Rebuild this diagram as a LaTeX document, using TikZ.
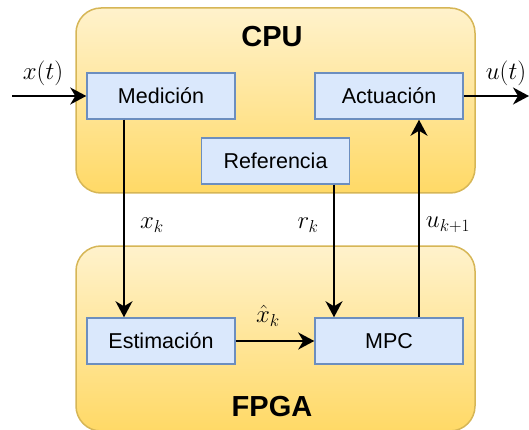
\documentclass[tikz,border=0pt]{standalone}
\usepackage{fontspec}
\setmainfont{Liberation Sans}
\usepackage{amsmath}
\usepackage{xcolor}
\usepackage{tikz}
\usetikzlibrary{calc, arrows.meta, positioning}

\definecolor{unittop}{HTML}{FFF2CC}
\definecolor{unitbot}{HTML}{FFD966}
\definecolor{unitline}{HTML}{D6B656}
\definecolor{blockfill}{HTML}{DAE8FC}
\definecolor{blockline}{HTML}{6C8EBF}

\begin{document}
\begin{tikzpicture}[x=1pt, y=-1pt, >=latex, font=\fontsize{21.5}{26}\selectfont]
		\tikzstyle{unit} = [draw=unitline, line width=1.5pt, rounded corners=25pt, top color=unittop, bottom color=unitbot, minimum width=399pt, minimum height=185pt]
		\tikzstyle{unittitle} = [font=\fontsize{29}{34}\selectfont\bfseries]
		\tikzstyle{block} = [draw=blockline, fill=blockfill, line width=1.5pt, rectangle, minimum width=148pt, minimum height=46pt]
		\tikzstyle{signal} = [font=\fontsize{26}{30}\selectfont, inner sep=1pt]
		\tikzstyle{arrow} = [line width=1.8pt, -{Stealth[length=16pt, width=17pt, inset=5pt]}]

		\useasboundingbox (0, 0) rectangle (529, 430);

		\node[unit]			at (275.5, 100.5)	(cpu)	{};
		\node[unit]			at (275.5, 338.5)	(fpga)	{};
		\node[unittitle]	at (272, 37)		(cpuname)	{CPU};
		\node[unittitle]	at (272, 407)		(fpganame)	{FPGA};

		\node[block]		at (161, 96)		(med)	{Medición};
		\node[block]		at (389, 96)		(act)	{Actuación};
		\node[block]		at (275.5, 161)		(ref)	{Referencia};
		\node[block]		at (161, 341)		(est)	{Estimación};
		\node[block]		at (389, 341)		(mpc)	{MPC};

		\coordinate (xin) at (12, 96);
		\coordinate (uout) at (529, 96);

		\draw [arrow] (xin) -- (med.west);
		\draw [arrow] (act.east) -- (uout);
		\draw [arrow] (med.south -| 124, 0) -- (est.north -| 124, 0);
		\draw [arrow] (ref.south -| 334, 0) -- (mpc.north -| 334, 0);
		\draw [arrow] (mpc.north -| 419, 0) -- (act.south -| 419, 0);
		\draw [arrow] (est.east) -- (mpc.west);

		\node[signal]		at (43, 73)			(xlab)	{$x(t)$};
		\node[signal]		at (506, 73)		(ulab)	{$u(t)$};
		\node[signal]		at (152, 225)		(xklab)	{$x_k$};
		\node[signal]		at (308, 225)		(rklab)	{$r_k$};
		\node[signal]		at (448, 225)		(uklab)	{$u_{k+1}$};
		\node[signal]		at (268, 316)		(xhlab)	{$\hat{x}_k$};
	\end{tikzpicture}
\end{document}
